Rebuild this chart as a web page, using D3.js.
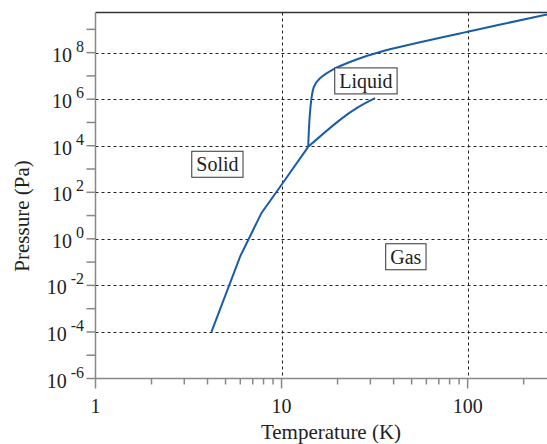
<!DOCTYPE html>
<meta charset="utf-8">
<script src="https://d3js.org/d3.v7.min.js"></script>
<body style="margin:0;background:#fff">
<svg width="547" height="444"></svg>
<style>
text { font-family: "Liberation Serif", "Times New Roman", serif; fill: #222; }
</style>
<script>
  // phase boundaries, [T (K), P (Pa)]
  var sublimation = [[4.2, 1e-4], [6.0, 0.18], [7.8, 13], [10, 210], [13.9, 9000]];
  var vaporization = [[13.9, 9000], [20.6, 1.29e5], [25.3, 4.1e5], [31.8, 1.1e6]];
  var melting = [[13.9, 9000], [14.93, 3.5e6], [16.1, 7.9e6], [19.4, 2.1e7], [25.3, 5.1e7], [33.8, 1.07e8], [100, 7.9e8], [267, 4.4e9]];
  var phaseLabels = [
    {text: 'Solid', T: 4.52, P: 1600},
    {text: 'Liquid', T: 28.4, P: 6.1e6},
    {text: 'Gas', T: 46.5, P: 0.17}
  ];
  var xTicks = [1, 10, 100];
  var xMinor = [2, 3, 4, 5, 6, 7, 8, 9, 20, 30, 40, 50, 60, 70, 80, 90, 200];
  var yExps = [-6, -4, -2, 0, 2, 4, 6, 8];
  var yMinorExps = [-5, -3, -1, 1, 3, 5, 7, 9];

  var svg = d3.select('svg');
  var pL = 95.5, pR = 547, pT = 12.5, pB = 378.5;

  var x = d3.scaleLog().domain([1, 267]).range([pL, pR]);
  var y = d3.scaleLog().domain([1e-6, 5.3e9]).range([pB, pT]);

  /* ----------- grid ----------- */
  svg.selectAll('line.hgrid').data(yExps.filter(function(e){ return e > -6; }))
    .enter().append('line')
    .attr('x1', pL).attr('x2', pR)
    .attr('y1', function(e){ return Math.round(y(Math.pow(10, e))) + 0.5; })
    .attr('y2', function(e){ return Math.round(y(Math.pow(10, e))) + 0.5; })
    .attr('stroke', '#222').attr('stroke-width', 1).attr('stroke-dasharray', '3,3');

  svg.selectAll('line.vgrid').data([10, 100])
    .enter().append('line')
    .attr('y1', pT).attr('y2', pB)
    .attr('x1', function(d){ return Math.round(x(d)) + 0.5; })
    .attr('x2', function(d){ return Math.round(x(d)) + 0.5; })
    .attr('stroke', '#222').attr('stroke-width', 1).attr('stroke-dasharray', '3,3');

  /* ----------- axes ----------- */
  svg.append('line').attr('x1', pL).attr('x2', pR).attr('y1', pT).attr('y2', pT)
    .attr('stroke', '#333').attr('stroke-width', 1.5);
  svg.append('line').attr('x1', pL).attr('x2', pL).attr('y1', pT).attr('y2', pB + 0.5)
    .attr('stroke', '#888').attr('stroke-width', 1.5);
  svg.append('line').attr('x1', pL).attr('x2', pR).attr('y1', pB).attr('y2', pB)
    .attr('stroke', '#888').attr('stroke-width', 1.5);

  // x ticks
  svg.selectAll('line.xmaj').data(xTicks).enter().append('line')
    .attr('x1', function(d){ return x(d); }).attr('x2', function(d){ return x(d); })
    .attr('y1', pB).attr('y2', pB + 10)
    .attr('stroke', '#888').attr('stroke-width', 1.5);
  svg.selectAll('line.xmin').data(xMinor).enter().append('line')
    .attr('x1', function(d){ return x(d); }).attr('x2', function(d){ return x(d); })
    .attr('y1', pB).attr('y2', pB + 6)
    .attr('stroke', '#888').attr('stroke-width', 1.5);
  svg.selectAll('text.xlab').data(xTicks).enter().append('text')
    .attr('x', function(d){ return x(d); }).attr('y', 412.5)
    .attr('text-anchor', 'middle').attr('font-size', 20)
    .text(function(d){ return d; });

  // y ticks
  svg.selectAll('line.ytick').data(yExps.concat(yMinorExps)).enter().append('line')
    .attr('x1', pL - 9).attr('x2', pL)
    .attr('y1', function(e){ return y(Math.pow(10, e)); })
    .attr('y2', function(e){ return y(Math.pow(10, e)); })
    .attr('stroke', '#888').attr('stroke-width', 1.5);

  var ylab = svg.selectAll('text.ylab').data(yExps).enter().append('text')
    .attr('x', 84).attr('y', function(e){ return y(Math.pow(10, e)) + 9; })
    .attr('text-anchor', 'end').attr('font-size', 20);
  ylab.append('tspan').text('10');
  ylab.append('tspan').attr('dx', 4).attr('dy', -10).attr('font-size', 16)
    .text(function(e){ return e; });

  /* ----------- axis titles ----------- */
  svg.append('text').attr('x', 331).attr('y', 439)
    .attr('text-anchor', 'middle').attr('font-size', 21).text('Temperature (K)');
  svg.append('text').attr('transform', 'translate(29,216) rotate(-90)')
    .attr('text-anchor', 'middle').attr('font-size', 21).text('Pressure (Pa)');

  /* ----------- curves ----------- */
  var px = function(d){ return x(d[0]); }, py = function(d){ return y(d[1]); };
  var straight = d3.line().x(px).y(py);
  var smooth = d3.line().x(px).y(py).curve(d3.curveCatmullRom.alpha(0.5));

  svg.append('path').datum(sublimation).attr('d', straight)
    .attr('fill', 'none').attr('stroke', '#1a5ca8').attr('stroke-width', 2);
  svg.selectAll('path.curve').data([vaporization, melting])
    .enter().append('path')
    .attr('d', smooth)
    .attr('fill', 'none').attr('stroke', '#1a5ca8').attr('stroke-width', 2);

  /* ----------- phase labels ----------- */
  phaseLabels.forEach(function(p){
    var g = svg.append('g');
    var t = g.append('text')
      .attr('x', x(p.T)).attr('y', y(p.P) + 7)
      .attr('text-anchor', 'middle').attr('font-size', 20)
      .text(p.text);
    var bb = t.node().getBBox();
    g.insert('rect', 'text')
      .attr('x', bb.x - 4.5).attr('y', y(p.P) - 13)
      .attr('width', bb.width + 9).attr('height', 26)
      .attr('fill', '#fff').attr('stroke', '#333').attr('stroke-width', 1);
  });
</script>
</body>
